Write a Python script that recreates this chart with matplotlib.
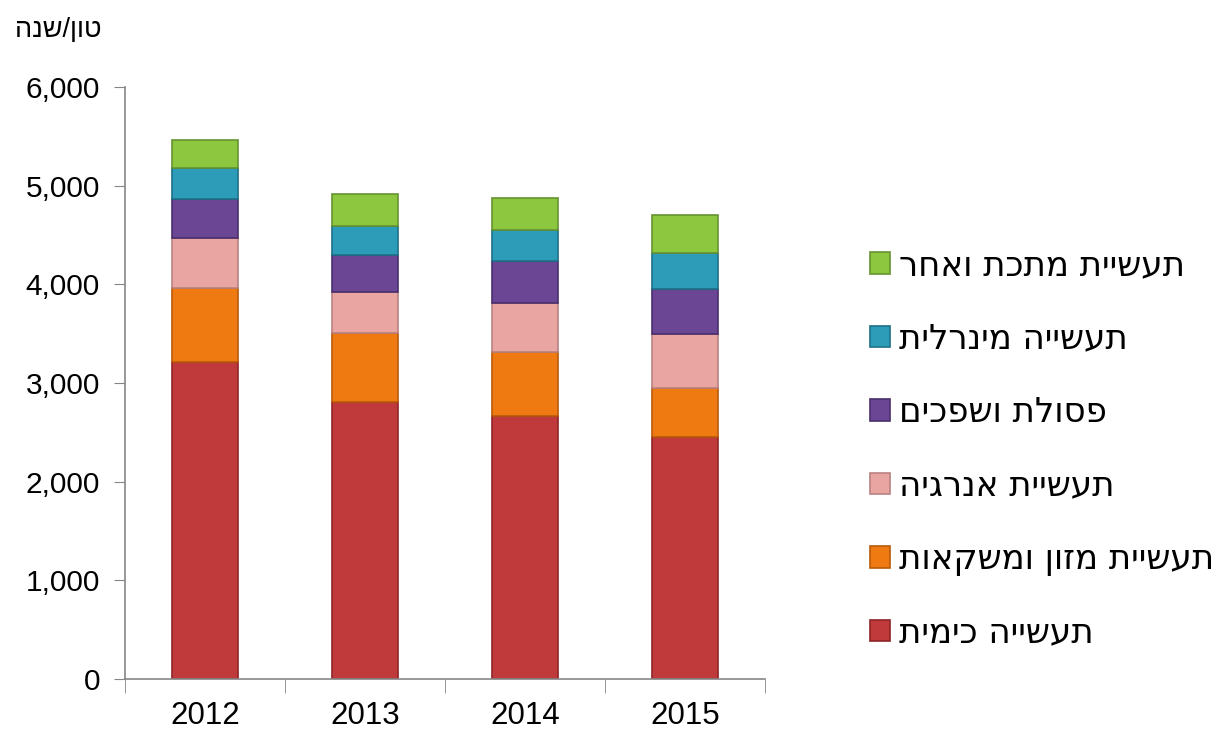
import numpy as np
import matplotlib.pyplot as plt
from matplotlib.patches import Patch
from matplotlib.ticker import FuncFormatter


def rtl(s):
    # matplotlib has no bidi support, so flip Hebrew strings for display
    return s[::-1]


years = ['2012', '2013', '2014', '2015']
categories = ['תעשייה כימית', 'תעשיית מזון ומשקאות', 'תעשיית אנרגיה',
              'פסולת ושפכים', 'תעשייה מינרלית', 'תעשיית מתכת ואחר']
chemical = [3210, 2810, 2665, 2450]
food = [750, 700, 650, 500]
energy = [510, 415, 495, 545]
waste = [395, 375, 425, 455]
mineral = [314, 295, 315, 365]
metal = [284, 325, 325, 385]
series = [chemical, food, energy, waste, mineral, metal]
colors = ['#C0393B', '#F07A12', '#E9A5A2', '#6A4694', '#2C9CB8', '#8DC63F']
edges = ['#8E2427', '#B85A0A', '#B98180', '#4A2F6C', '#1D7088', '#659330']

fig = plt.figure(figsize=(12.21, 7.34), dpi=100)
ax = fig.add_axes([0.1024, 0.0749, 0.5242, 0.8066])

x = np.arange(len(years))
bottom = np.zeros(len(years))
for vals, c, e in zip(series, colors, edges):
    ax.bar(x, vals, width=0.41, bottom=bottom, color=c, edgecolor=e, linewidth=1.2)
    bottom += np.array(vals)

ax.set_xlim(-0.5, 3.5)
ax.set_ylim(0, 6000)
ax.set_yticks(np.arange(0, 6001, 1000))
ax.yaxis.set_major_formatter(FuncFormatter(lambda v, p: f'{int(v):,}'))
ax.set_xticks(x)
ax.set_xticklabels(years)
ax.set_xticks(np.arange(-0.5, 3.6, 1), minor=True)
ax.tick_params(axis='x', which='major', length=0, pad=16, labelsize=22.5)
ax.tick_params(axis='x', which='minor', length=10, color='#868686', direction='out')
ax.tick_params(axis='y', length=8, color='#868686', pad=10, labelsize=21.5)

for s in ['top', 'right']:
    ax.spines[s].set_visible(False)
for s in ['left', 'bottom']:
    ax.spines[s].set_color('#868686')
    ax.spines[s].set_linewidth(1.2)

for lab in ax.get_xticklabels() + ax.get_yticklabels():
    lab.set_family(['Liberation Sans', 'DejaVu Sans'])

fig.text(0.012, 0.959, rtl('טון/שנה'), fontsize=19.5, va='center', ha='left',
         family=['Liberation Sans', 'DejaVu Sans'])

handles = [Patch(facecolor=c, edgecolor=e, linewidth=1.2) for c, e in zip(colors, edges)]
labels = [rtl(c) for c in categories]
fig.legend(handles[::-1], labels[::-1], loc='center left',
           bbox_to_anchor=(0.7125, 0.388), frameon=False,
           prop={'family': 'DejaVu Sans', 'size': 24.5},
           handlelength=0.6, handleheight=0.6, handletextpad=0.25,
           labelspacing=1.19, borderpad=0, borderaxespad=0)

fig.savefig('out.png', dpi=100)
